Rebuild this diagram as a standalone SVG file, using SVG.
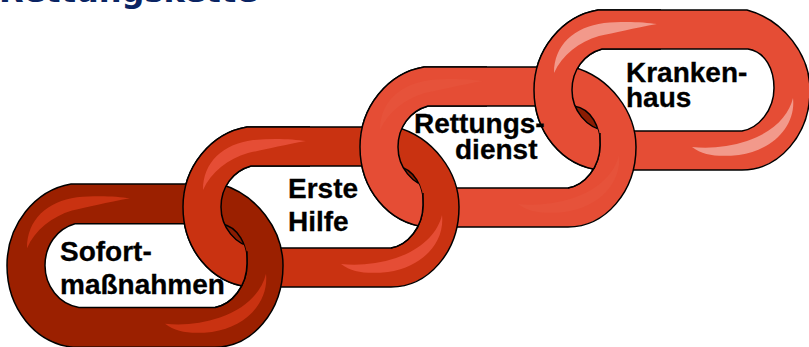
<svg xmlns="http://www.w3.org/2000/svg" xmlns:xlink="http://www.w3.org/1999/xlink" width="809" height="347" viewBox="0 0 809 347">
<style>
.ring{fill-rule:evenodd;stroke:#000;stroke-width:1.5;stroke-linejoin:round}
.edge{fill:none;stroke:#000;stroke-width:1.5}
.c1{fill:#9b2000}.h1{fill:#c93211}
.c2{fill:#c93211}.h2{fill:#e54d35}
.c3{fill:#e54d35}.h3{fill:#e6523a}
.c4{fill:#e54d35}.h4{fill:#f2998b}
.eye{fill:#8a1c02}
.label{font-family:"Liberation Sans",Arial,sans-serif;font-weight:700;font-size:28px;fill:#000;stroke:#000;stroke-width:.3}
.title{font-family:"DejaVu Sans",Verdana,sans-serif;font-weight:700;font-size:32px;fill:#0a2463}
</style>
<defs>
<path id="ringp" d="M64,0 L213,0 C250,10 276,45 276,80 C276,125 245,160 208,160 L66,160 C28,156 0,122 0,80 C0,40 28,6 64,0 Z M68,39 C50,44 38,60 38,80 C38,100 52,118 72,121 L208,121 C225,118 240,100 240,78 C240,60 232,42 214,39 Z"/>
<path id="holep" d="M68,39 C50,44 38,60 38,80 C38,100 52,118 72,121 L208,121 C225,118 240,100 240,78 C240,60 232,42 214,39 Z"/>
<path id="up" d="M20,63 C20,35 40,17 70,13 C90,11 110,12 123,14 C100,18 80,23 65,26 C45,32 28,45 20,63 Z"/>
<path id="low" d="M259,88 C262,115 240,140 205,145 C185,147 170,146 158,137 C175,139 195,137 213,131 C240,122 255,105 259,88 Z"/>
<clipPath id="hole1"><use href="#holep" transform="translate(7,184) scale(1,1.02)"/></clipPath>
<clipPath id="hole2"><use href="#holep" transform="translate(183,127)"/></clipPath>
<clipPath id="hole3"><use href="#holep" transform="translate(360,67)"/></clipPath>
<clipPath id="over2"><use href="#holep" transform="translate(7,184) scale(1,1.02)"/><rect x="170" y="110" width="140" height="115"/></clipPath>
<clipPath id="over3"><use href="#holep" transform="translate(183,127)"/><rect x="347" y="50" width="140" height="118"/></clipPath>
<clipPath id="over4"><use href="#holep" transform="translate(360,67)"/><rect x="521" y="-5" width="140" height="113"/></clipPath>
</defs>
<rect width="809" height="347" fill="#fff"/>
<text class="title" x="-1" y="2">Rettungskette</text>
<g id="link-4">
<use href="#ringp" class="ring c4" transform="translate(534,10)"/>
<use href="#up" class="h4" transform="translate(534,10)"/>
<use href="#low" class="h4" transform="translate(534,10)"/>
<g clip-path="url(#hole3)"><use href="#holep" class="eye" transform="translate(534,10)"/></g>
</g>
<g id="link-3">
<use href="#ringp" class="ring c3" transform="translate(360,67)"/>
<use href="#up" class="h3" transform="translate(360,67)"/>
<use href="#low" class="h3" transform="translate(360,67)"/>
<g clip-path="url(#over4)">
<use href="#ringp" class="ring c4" transform="translate(534,10)"/>
<use href="#up" class="h4" transform="translate(534,10)"/>
</g>
<path class="edge" transform="translate(360,67)" d="M240,66 L240,78 C240,100 225,118 208,121"/>
<g clip-path="url(#hole2)"><use href="#holep" class="eye" transform="translate(360,67)"/></g>
</g>
<g id="link-2">
<use href="#ringp" class="ring c2" transform="translate(183,127)"/>
<use href="#up" class="h2" transform="translate(183,127)"/>
<use href="#low" class="h2" transform="translate(183,127)"/>
<g clip-path="url(#over3)">
<use href="#ringp" class="ring c3" transform="translate(360,67)"/>
<use href="#up" class="h3" transform="translate(360,67)"/>
</g>
<path class="edge" transform="translate(183,127)" d="M240,66 L240,78 C240,100 225,118 208,121"/>
<g clip-path="url(#hole1)"><use href="#holep" class="eye" transform="translate(183,127)"/></g>
</g>
<g id="link-1">
<use href="#ringp" class="ring c1" transform="translate(7,184) scale(1,1.02)"/>
<use href="#up" class="h1" transform="translate(7,184) scale(1,1.02)"/>
<use href="#low" class="h1" transform="translate(7,184) scale(1,1.02)"/>
<g clip-path="url(#over2)">
<use href="#ringp" class="ring c2" transform="translate(183,127)"/>
<use href="#up" class="h2" transform="translate(183,127)"/>
</g>
<path class="edge" transform="translate(7,184) scale(1,1.02)" d="M240,66 L240,78 C240,100 225,118 208,121"/>
</g>
<g id="labels">
<text class="label" x="60" y="261">Sofort-</text>
<text class="label" x="60" y="294">maßnahmen</text>
<text class="label" x="288" y="198">Erste</text>
<text class="label" x="288" y="231">Hilfe</text>
<text class="label" x="414" y="133">Rettungs-</text>
<text class="label" x="455" y="159">dienst</text>
<text class="label" x="626" y="82">Kranken-</text>
<text class="label" x="626" y="107">haus</text>
</g>
</svg>
